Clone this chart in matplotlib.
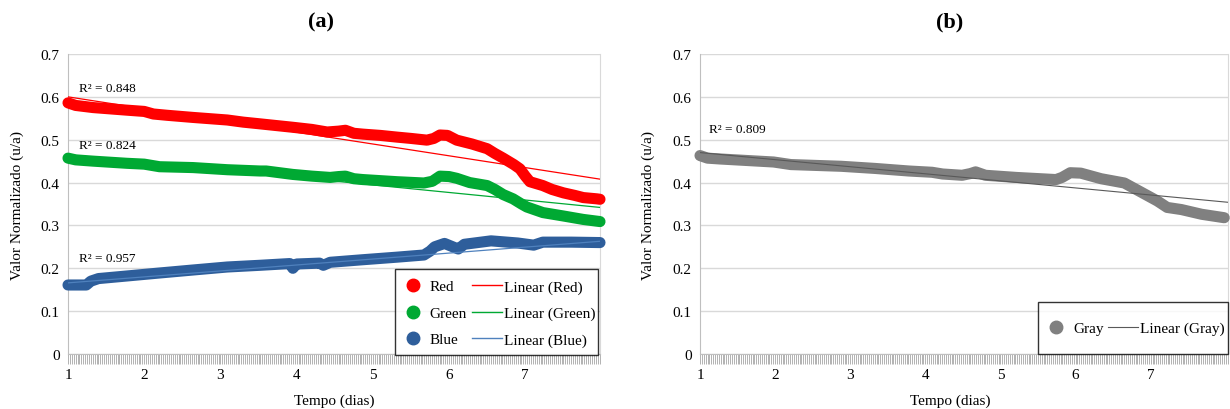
import numpy as np
import matplotlib.pyplot as plt
from matplotlib.lines import Line2D
from matplotlib.legend_handler import HandlerLine2D
from matplotlib.ticker import MultipleLocator

# values (x = tempo in dias, y = normalised value)
red_x = [1.0, 1.1, 1.33, 1.77, 2.0, 2.12, 2.3, 2.64, 3.09, 3.3, 3.52, 3.95, 4.2, 4.4, 4.55, 4.64,
         4.75, 4.87, 5.1, 5.32, 5.5, 5.71, 5.8, 5.88, 5.98, 6.1, 6.3, 6.5, 6.6, 6.71, 6.85, 6.93,
         7.0, 7.06, 7.23, 7.35, 7.5, 7.65, 7.76, 7.94, 7.98]
red_y = [0.586, 0.580, 0.575, 0.569, 0.566, 0.560, 0.557, 0.552, 0.546, 0.541, 0.537, 0.529, 0.524,
         0.518, 0.520, 0.522, 0.515, 0.513, 0.510, 0.506, 0.503, 0.499, 0.503, 0.511, 0.510, 0.499,
         0.490, 0.479, 0.468, 0.457, 0.442, 0.432, 0.415, 0.402, 0.393, 0.384, 0.376, 0.370, 0.365,
         0.362, 0.361]

green_x = [1.0, 1.1, 1.33, 1.77, 2.0, 2.2, 2.64, 3.09, 3.52, 3.6, 3.95, 4.2, 4.44, 4.55, 4.64, 4.75,
           4.87, 5.32, 5.67, 5.78, 5.88, 6.0, 6.1, 6.27, 6.5, 6.6, 6.71, 6.84, 6.95, 7.02, 7.23, 7.5,
           7.76, 7.98]
green_y = [0.457, 0.453, 0.450, 0.445, 0.443, 0.437, 0.435, 0.430, 0.427, 0.427, 0.419, 0.415, 0.412,
           0.414, 0.415, 0.409, 0.407, 0.402, 0.399, 0.403, 0.415, 0.414, 0.410, 0.400, 0.393, 0.384,
           0.372, 0.362, 0.350, 0.343, 0.330, 0.322, 0.314, 0.309]

blue_x = [1.0, 1.24, 1.3, 1.4, 1.77, 2.2, 2.64, 3.09, 3.52, 3.91, 3.95, 4.0, 4.3, 4.35, 4.44, 4.87,
          5.32, 5.67, 5.75, 5.81, 5.94, 6.05, 6.12, 6.2, 6.55, 6.9, 7.11, 7.23, 7.6, 7.98]
blue_y = [0.161, 0.161, 0.170, 0.176, 0.182, 0.189, 0.196, 0.203, 0.207, 0.211, 0.200, 0.210, 0.212,
          0.207, 0.214, 0.220, 0.226, 0.231, 0.240, 0.250, 0.258, 0.250, 0.245, 0.256, 0.264, 0.259,
          0.254, 0.261, 0.261, 0.260]

gray_x = [1.0, 1.1, 1.27, 1.98, 2.21, 2.88, 3.33, 3.78, 4.09, 4.23, 4.49, 4.6, 4.67, 4.8, 5.21, 5.74,
          5.82, 5.93, 6.07, 6.34, 6.65, 6.87, 7.09, 7.22, 7.41, 7.68, 7.98]
gray_y = [0.463, 0.457, 0.455, 0.448, 0.442, 0.438, 0.433, 0.427, 0.424, 0.420, 0.417, 0.421, 0.425,
          0.417, 0.412, 0.407, 0.412, 0.423, 0.422, 0.409, 0.399, 0.378, 0.357, 0.342, 0.337, 0.326,
          0.318]

# linear trend lines (start / end values)
trend_x = [1.0, 7.98]
red_trend = [0.600, 0.408]
green_trend = [0.465, 0.342]
blue_trend = [0.166, 0.263]
trend_x_b = [1.0, 8.03]
gray_trend = [0.470, 0.354]

r2_red, r2_green, r2_blue, r2_gray = 0.848, 0.824, 0.957, 0.809

xticks = [1, 2, 3, 4, 5, 6, 7]
yticks = [0, 0.1, 0.2, 0.3, 0.4, 0.5, 0.6, 0.7]

plt.rcParams['font.family'] = ['Liberation Serif', 'DejaVu Serif']

RED, GREEN, BLUE, GRAY = '#FF0000', '#00A933', '#2E5E9B', '#808080'
TRED, TGREEN, TBLUE, TGRAY = '#FF0000', '#00A933', '#4F81BD', '#595959'


class MidTextHandler(HandlerLine2D):
    # keep legend handles level with the text when the rows are made taller
    def create_artists(self, legend, orig_handle, xdescent, ydescent, width, height, fontsize, trans):
        artists = super().create_artists(legend, orig_handle, xdescent, ydescent, width, height,
                                         fontsize, trans)
        for a in artists:
            a.set_ydata(np.full_like(a.get_ydata(), 0.33 * fontsize))
        return artists


fig = plt.figure(figsize=(12.3, 4.1), dpi=100)
ax_a = fig.add_axes([68 / 1230, 55 / 410, 532 / 1230, 300 / 410])
ax_b = fig.add_axes([700 / 1230, 55 / 410, 528 / 1230, 300 / 410])


def style_axes(ax, xmax):
    ax.set_xlim(1, xmax)
    ax.set_ylim(0, 0.7)
    ax.set_xticks(xticks)
    ax.set_xticklabels([str(t) for t in xticks])
    ax.set_yticks(yticks)
    ax.set_yticklabels(['0'] + [f'{t:.1f}' for t in yticks[1:]])
    ax.xaxis.set_minor_locator(MultipleLocator(0.025))
    ax.tick_params(axis='x', which='both', length=7, width=0.6, color='#A6A6A6',
                   labelsize=11, pad=3)
    ax.tick_params(axis='y', length=0, labelsize=11, pad=6)
    ax.grid(axis='y', color='#D9D9D9', lw=1)
    ax.set_axisbelow(True)
    ax.spines['top'].set_visible(False)
    ax.spines['right'].set_color('#D9D9D9')
    ax.spines['left'].set_color('#BFBFBF')
    ax.spines['bottom'].set_color('#BFBFBF')


def draw_series(ax, x, y, color):
    ax.plot(x, y, '-', color=color, lw=8, solid_capstyle='round', solid_joinstyle='round',
            zorder=3, clip_on=False)


legend_kw = dict(fontsize=11, frameon=True, fancybox=False, edgecolor='black', ncol=2,
                 borderaxespad=0, handlelength=1.95, handletextpad=0.15,
                 columnspacing=0.3, labelspacing=0.0, borderpad=0.2,
                 handler_map={Line2D: MidTextHandler()})

# panel (a)
style_axes(ax_a, 7.98)
draw_series(ax_a, red_x, red_y, RED)
draw_series(ax_a, green_x, green_y, GREEN)
draw_series(ax_a, blue_x, blue_y, BLUE)
ax_a.plot(trend_x, red_trend, color=TRED, lw=0.9, zorder=4)
ax_a.plot(trend_x, green_trend, color=TGREEN, lw=0.9, zorder=4)
ax_a.plot(trend_x, blue_trend, color=TBLUE, lw=0.9, zorder=4)

ax_a.text(1.15, 0.62, f'R² = {r2_red:.3f}', fontsize=9.5, va='center')
ax_a.text(1.15, 0.488, f'R² = {r2_green:.3f}', fontsize=9.5, va='center')
ax_a.text(1.15, 0.224, f'R² = {r2_blue:.3f}', fontsize=9.5, va='center')

handles_a = [
    Line2D([], [], ls='none', marker='o', ms=9, color=RED),
    Line2D([], [], ls='none', marker='o', ms=9, color=GREEN),
    Line2D([], [], ls='none', marker='o', ms=9, color=BLUE),
    Line2D([], [], color=TRED, lw=1),
    Line2D([], [], color=TGREEN, lw=1),
    Line2D([], [], color=TBLUE, lw=1),
]
labels_a = ['Red', 'Green', 'Blue', 'Linear (Red)', 'Linear (Green)', 'Linear (Blue)']
leg = ax_a.legend(handles_a, labels_a, loc='lower right', bbox_to_anchor=(0.997, -0.003),
                  handleheight=2.29, **legend_kw)
leg.get_frame().set_linewidth(1.0)
leg.set_zorder(5)

# panel (b)
style_axes(ax_b, 8.03)
draw_series(ax_b, gray_x, gray_y, GRAY)
ax_b.plot(trend_x_b, gray_trend, color=TGRAY, lw=0.8, zorder=4)
ax_b.text(1.12, 0.525, f'R² = {r2_gray:.3f}', fontsize=9.5, va='center')

handles_b = [Line2D([], [], ls='none', marker='o', ms=9, color=GRAY),
             Line2D([], [], color=TGRAY, lw=0.8)]
leg_b = ax_b.legend(handles_b, ['Gray', 'Linear (Gray)'], loc='lower left',
                    bbox_to_anchor=(0.640, 0.0), handleheight=4.25, **legend_kw)
leg_b.get_frame().set_linewidth(1.0)
leg_b.set_zorder(5)

# titles and axis labels
fig.text(321 / 1230, 1 - 22 / 410, '(a)', fontsize=16, fontweight='bold', ha='center', va='center')
fig.text(950 / 1230, 1 - 22 / 410, '(b)', fontsize=16, fontweight='bold', ha='center', va='center')
fig.text(334 / 1230, 1 - 401 / 410, 'Tempo (dias)', fontsize=11, ha='center', va='center')
fig.text(950 / 1230, 1 - 401 / 410, 'Tempo (dias)', fontsize=11, ha='center', va='center')
fig.text(17 / 1230, 1 - 205 / 410, 'Valor Normalizado (u/a)', fontsize=11, rotation=90,
         ha='center', va='center')
fig.text(648 / 1230, 1 - 205 / 410, 'Valor Normalizado (u/a)', fontsize=11, rotation=90,
         ha='center', va='center')

fig.savefig('out.png', dpi=100)
